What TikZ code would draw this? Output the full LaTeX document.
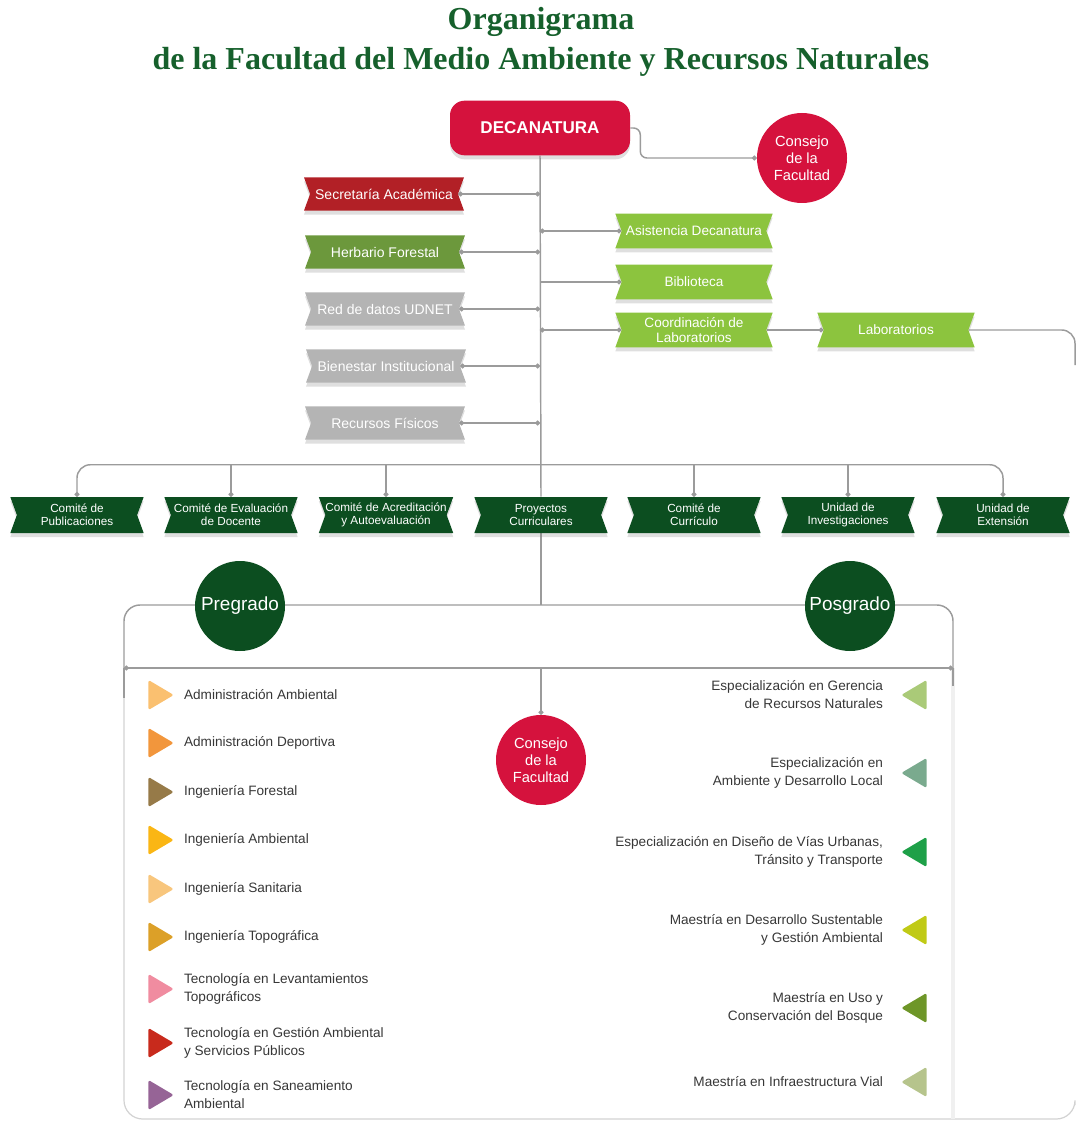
\documentclass[tikz,border=0pt]{standalone}
\usepackage{fontspec}
\setmainfont{Liberation Serif}
\setsansfont{Liberation Sans}
\usetikzlibrary{positioning,shapes.symbols,shapes.geometric,shadows,arrows.meta,backgrounds}

\definecolor{decared}{RGB}{213,18,61}
\definecolor{secred}{RGB}{178,32,38}
\definecolor{herbgreen}{RGB}{108,152,60}
\definecolor{boxgray}{RGB}{180,180,180}
\definecolor{limegreen}{RGB}{140,196,62}
\definecolor{darkgreen}{RGB}{12,78,32}
\definecolor{titlegreen}{RGB}{22,96,44}
\definecolor{linegray}{RGB}{155,155,155}
\definecolor{listgray}{RGB}{55,55,55}

\tikzset{
  link/.style={draw=linegray, line width=1.1pt},
  dots/.style={{Circle[length=3.6pt]}-{Circle[length=3.6pt]}},
  enddot/.style={-{Circle[length=3.6pt]}},
  banner/.style={signal, signal to=nowhere, signal from=west and east, signal pointer angle=140,
    inner sep=0pt, text=white, align=center,
    drop shadow={shadow xshift=0pt, shadow yshift=-3pt, opacity=.25}},
  sidebox/.style={banner, minimum width=120pt, minimum height=25pt, font=\sffamily\fontsize{10.5}{12}\selectfont},
  labbox/.style={banner, minimum width=118pt, minimum height=26pt, fill=limegreen, font=\sffamily\fontsize{10.2}{11.5}\selectfont},
  comite/.style={banner, minimum width=100pt, minimum height=27pt, fill=darkgreen, font=\sffamily\fontsize{8.8}{10}\selectfont},
  bubble/.style={circle, minimum size=67.5pt, inner sep=0pt, text=white, align=center},
  tri/.style={isosceles triangle, isosceles triangle stretches, minimum height=19pt, minimum width=22.5pt, inner sep=0pt, rounded corners=1.2pt},
  item/.style={inner sep=0pt, text=listgray, align=left, font=\sffamily\fontsize{10.2}{13.5}\selectfont},
}

\begin{document}
\begin{tikzpicture}[x=0.75pt,y=0.75pt,yscale=-1,xscale=1]
\useasboundingbox (0,0) rectangle (1079,1123);

% Text Node
\node[font=\bfseries\fontsize{24}{30}\selectfont, text=titlegreen, align=center] (title) at (541,42) {Organigrama\\de la Facultad del Medio Ambiente y Recursos Naturales};

%Shape: Decanatura
\node[fill=decared, rounded corners=11pt, minimum width=135pt, minimum height=41pt, text=white,
  font=\sffamily\bfseries\fontsize{12.8}{14}\selectfont,
  drop shadow={shadow xshift=0pt, shadow yshift=-3pt, opacity=.25}] (deca) at (540,128) {DECANATURA};
\node[bubble, fill=decared, font=\sffamily\fontsize{11}{12.75}\selectfont] (cons) at (802,158) {Consejo\\de la\\Facultad};

%Shape: left banners
\node[sidebox, fill=secred] (secr) at (384,194) {Secretaría Académica};
\node[sidebox, fill=herbgreen] (herb) at (385,252) {Herbario Forestal};
\node[sidebox, fill=boxgray] (udnet) at (385,309) {Red de datos UDNET};
\node[sidebox, fill=boxgray] (bien) at (386,366) {Bienestar Institucional};
\node[sidebox, fill=boxgray] (recur) at (385,423) {Recursos Físicos};

%Shape: right banners
\node[labbox] (asis) at (694,231) {Asistencia Decanatura};
\node[labbox] (bibl) at (694,282) {Biblioteca};
\node[labbox] (coord) at (694,330) {Coordinación de\\Laboratorios};
\node[labbox] (lab) at (896,330) {Laboratorios};

%Shape: committees
\node[comite] (pub) at (77,515) {Comité de\\Publicaciones};
\node[comite] (eva) at (231,515) {Comité de Evaluación\\de Docente};
\node[comite] (acre) at (386,515) {Comité de Acreditación\\y Autoevaluación};
\node[comite] (proy) at (541,515) {Proyectos\\Curriculares};
\node[comite] (curr) at (694,515) {Comité de\\Currículo};
\node[comite] (inv) at (848,515) {Unidad de\\Investigaciones};
\node[comite] (ext) at (1003,515) {Unidad de\\Extensión};

%Shape: circles
\node[bubble, fill=darkgreen, font=\sffamily\fontsize{14.2}{16}\selectfont] (pre) at (240,606) {Pregrado};
\node[bubble, fill=darkgreen, font=\sffamily\fontsize{14.2}{16}\selectfont] (pos) at (850,606) {Posgrado};
\node[bubble, fill=decared, font=\sffamily\fontsize{11}{12.75}\selectfont] (cons2) at (541,760) {Consejo\\de la\\Facultad};

\coordinate (bus) at (541,465);
\coordinate (tj) at (541,605);
\coordinate (pl) at (124,668);
\coordinate (pr) at (953,668);
\coordinate (pm) at (541,668);
\coordinate (pbl) at (124,1119);
\coordinate (pbr) at (1075,1119);
\coordinate (labend) at (1075,365);

%Shape: pregrado list
\node[tri, fill={rgb,255:red,250;green,192;blue,112}] (lt1) at (157,695) {};
\node[item, right=7pt of lt1] (li1) {Administración Ambiental};
\node[tri, fill={rgb,255:red,242;green,150;blue,60}] (lt2) at (157,743) {};
\node[item, right=7pt of lt2] (li2) {Administración Deportiva};
\node[tri, fill={rgb,255:red,150;green,122;blue,72}] (lt3) at (157,792) {};
\node[item, right=7pt of lt3] (li3) {Ingeniería Forestal};
\node[tri, fill={rgb,255:red,250;green,182;blue,20}] (lt4) at (157,840) {};
\node[item, right=7pt of lt4] (li4) {Ingeniería Ambiental};
\node[tri, fill={rgb,255:red,248;green,198;blue,125}] (lt5) at (157,889) {};
\node[item, right=7pt of lt5] (li5) {Ingeniería Sanitaria};
\node[tri, fill={rgb,255:red,220;green,160;blue,40}] (lt6) at (157,937) {};
\node[item, right=7pt of lt6] (li6) {Ingeniería Topográfica};
\node[tri, fill={rgb,255:red,240;green,140;blue,160}] (lt7) at (157,989) {};
\node[item, right=7pt of lt7] (li7) {Tecnología en Levantamientos\\Topográficos};
\node[tri, fill={rgb,255:red,200;green,42;blue,28}] (lt8) at (157,1043) {};
\node[item, right=7pt of lt8] (li8) {Tecnología en Gestión Ambiental\\y Servicios Públicos};
\node[tri, fill={rgb,255:red,150;green,100;blue,150}] (lt9) at (157,1095) {};
\node[item, right=7pt of lt9] (li9) {Tecnología en Saneamiento\\Ambiental};

%Shape: posgrado list
\node[tri, shape border rotate=180, fill={rgb,255:red,170;green,202;blue,120}] (rt1) at (918,695) {};
\node[item, align=right, left=13pt of rt1] (ri1) {Especialización en Gerencia\\de Recursos Naturales};
\node[tri, shape border rotate=180, fill={rgb,255:red,122;green,170;blue,142}] (rt2) at (918,773) {};
\node[item, align=right, left=13pt of rt2] (ri2) {Especialización en\\Ambiente y Desarrollo Local};
\node[tri, shape border rotate=180, fill={rgb,255:red,30;green,160;blue,72}] (rt3) at (918,852) {};
\node[item, align=right, left=13pt of rt3] (ri3) {Especialización en Diseño de Vías Urbanas,\\Tránsito y Transporte};
\node[tri, shape border rotate=180, fill={rgb,255:red,192;green,202;blue,22}] (rt4) at (918,930) {};
\node[item, align=right, left=13pt of rt4] (ri4) {Maestría en Desarrollo Sustentable\\y Gestión Ambiental};
\node[tri, shape border rotate=180, fill={rgb,255:red,110;green,150;blue,40}] (rt5) at (918,1008) {};
\node[item, align=right, left=13pt of rt5] (ri5) {Maestría en Uso y\\Conservación del Bosque};
\node[tri, shape border rotate=180, fill={rgb,255:red,182;green,196;blue,140}] (rt6) at (918,1082) {};
\node[item, align=right, left=13pt of rt6] (ri6) {Maestría en Infraestructura Vial};

\begin{scope}[on background layer]
%Straight Lines: panel
\draw[gray!35, line width=0.9pt, rounded corners=14pt] (pl) |- (pbr) -- ++(0,-14);
\draw[gray!12, line width=2.5pt] (pr) -- (pr |- pbl);
%Straight Lines: top
\draw[link, rounded corners=5pt, enddot] (deca.east) -- ++(10,0) |- (cons.west);
\draw[link] (deca.south) -- (proy.north);
\draw[link] (proy.south) -- (tj);
\draw[link, dots] (secr.east) -- (secr.east -| deca.south);
\draw[link, dots] (herb.east) -- (herb.east -| deca.south);
\draw[link, dots] (udnet.east) -- (udnet.east -| deca.south);
\draw[link, dots] (bien.east) -- (bien.east -| deca.south);
\draw[link, dots] (recur.east) -- (recur.east -| deca.south);
\draw[link, dots] (asis.west -| deca.south) -- (asis.west);
\draw[link, enddot] (bibl.west -| deca.south) -- (bibl.west);
\draw[link, dots] (coord.west -| deca.south) -- (coord.west);
\draw[link, enddot] (coord.east) -- (lab.west);
\draw[link, rounded corners=10pt] (lab.east) -| (labend);
%Straight Lines: committees
\draw[link, rounded corners=10pt, dots] (pub.north) -- ++(0,-32) -| (ext.north);
\draw[link, enddot] (bus -| eva.north) -- (eva.north);
\draw[link, enddot] (bus -| acre.north) -- (acre.north);
\draw[link, enddot] (bus -| curr.north) -- (curr.north);
\draw[link, enddot] (bus -| inv.north) -- (inv.north);
%Straight Lines: programmes
\draw[link, rounded corners=12pt] (pl) |- (tj) -| (pr);
\draw[link, dots] (pl) -- (pr);
\draw[link] (pl) -- ++(0,30);
\draw[link] (pr) -- ++(0,18);
\draw[link, enddot] (pm) -- (cons2.north);
\end{scope}

\end{tikzpicture}
\end{document}
